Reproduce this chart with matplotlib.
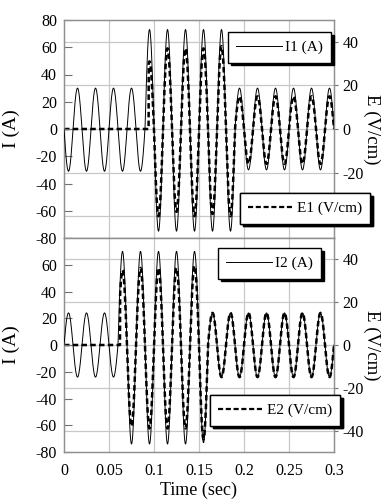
import numpy as np
import matplotlib
matplotlib.use("Agg")
import matplotlib.pyplot as plt
from matplotlib.lines import Line2D

plt.rcParams['font.family'] = ['Liberation Serif', 'DejaVu Serif']

# ---- data (per half-cycle extreme values, 50 Hz, 0..0.3 s) ----
HALF_PERIOD = 0.01
I1_PEAKS = [-31, 30, -31, 30, -31, 30, -31, 30, -31,
            73, -75, 73, -75, 73, -75, 73, -75, 73, -75,
            30, -30, 30, -30, 30, -30, 30, -30, 30, -30, 30]
E1_PEAKS = [0, 0, 0, 0, 0, 0, 0, 0, 0,
            31, -40, 37, -38, 37, -40, 37, -39, 38, -40,
            15, -16, 15, -16, 15, -16, 15, -16, 15, -16, 15]
E1_ONSET = 0.094
I2_PEAKS = [24, -24, 24, -24, 24, -24,
            70, -74, 70, -74, 70, -74, 70, -74, 70, -73,
            24, -24, 24, -24, 24, -24, 24, -24, 24, -24, 24, -24, 24, -24]
E2_PEAKS = [0, 0, 0, 0, 0, 0,
            35, -38, 36, -39, 36, -39, 36, -39, 37, -44,
            15, -15, 15, -15, 15, -15, 15, -15, 15, -15, 15, -15, 15, -15]
E2_ONSET = 0.0622

X_TICKS = [0, 0.05, 0.1, 0.15, 0.2, 0.25, 0.3]
X_TICKLABELS = ['0', '0.05', '0.1', '0.15', '0.2', '0.25', '0.3']
I_TICKS_TOP = [-80, -60, -40, -20, 0, 20, 40, 60, 80]
I_TICKS_BOT = [-80, -60, -40, -20, 0, 20, 40, 60]
E_TICKS = [-40, -20, 0, 20, 40]
E_TICKLABELS_TOP = ['', '-20', '0', '20', '40']   # -40 hidden behind legend in the original
E_TICKLABELS_BOT = ['-40', '-20', '0', '20', '40']


def wave(peaks, onset=None):
    t = np.linspace(0, len(peaks) * HALF_PERIOD, 6001)
    k = np.minimum((t / HALF_PERIOD).astype(int), len(peaks) - 1)
    frac = t / HALF_PERIOD - k
    v = np.asarray(peaks, float)[k] * np.sin(np.pi * frac)
    if onset is not None:
        v = np.where(t < onset, 0.0, v)
    return t, v


W, H = 392, 504
fig = plt.figure(figsize=(W / 100, H / 100), dpi=100)

panels = [
    dict(rect=[64 / W, 1 - 238 / H, 270 / W, 218 / H], I=I1_PEAKS, E=E1_PEAKS,
         onset=E1_ONSET, ilab='I1 (A)', elab='E1 (V/cm)', iticks=I_TICKS_TOP,
         elabels=E_TICKLABELS_TOP,
         ibox=((228 - 64) / 270, 1 - (32 - 20) / 218),
         ebox=((240 - 64) / 270, 1 - (193 - 20) / 218)),
    dict(rect=[64 / W, 1 - 452 / H, 270 / W, 214 / H], I=I2_PEAKS, E=E2_PEAKS,
         onset=E2_ONSET, ilab='I2 (A)', elab='E2 (V/cm)', iticks=I_TICKS_BOT,
         elabels=E_TICKLABELS_BOT,
         ibox=((218 - 64) / 270, 1 - (248 - 238) / 214),
         ebox=((210 - 64) / 270, 1 - (395 - 238) / 214)),
]

spine_col = '#909090'
grid_col = '#c8c8c8'

for i, p in enumerate(panels):
    ax2 = fig.add_axes(p['rect'])          # bottom layer: E (right axis) + grid
    ax = fig.add_axes(p['rect'], sharex=ax2)  # top layer: I (left axis)
    ax.patch.set_visible(False)
    ax2.yaxis.tick_right()
    ax2.yaxis.set_label_position('right')
    ax2.xaxis.set_visible(False)

    ax2.set_xlim(0, 0.3)
    ax2.set_ylim(-50, 50)
    ax.set_ylim(-80, 80)

    # grid
    for y in E_TICKS:
        ax2.axhline(y, color=grid_col, lw=0.9, zorder=0.5)
    for x in X_TICKS[1:-1]:
        ax2.axvline(x, color=grid_col, lw=0.9, zorder=0.5)

    tE, vE = wave(p['E'], p['onset'])
    tI, vI = wave(p['I'])
    lE, = ax2.plot(tE, vE, color='black', lw=1.8, ls=(0, (2.2, 1.3)), zorder=2)
    lI, = ax.plot(tI, vI, color='black', lw=0.7, zorder=3)

    ax.set_yticks(p['iticks'])
    ax.set_yticklabels([str(v) for v in p['iticks']])
    ax2.set_yticks(E_TICKS)
    ax2.set_yticklabels(p['elabels'])
    ax.set_xticks(X_TICKS)
    if i == 1:
        ax.set_xticklabels(X_TICKLABELS)
        ax.set_xlabel('Time (sec)', fontsize=13, labelpad=2)
    else:
        ax.set_xticklabels([])

    ax.tick_params(axis='y', direction='in', length=6, width=0.8, color='#707070',
                   labelsize=11.5, pad=5)
    ax.tick_params(axis='x', length=0, labelsize=11.5, pad=8)
    ax2.tick_params(axis='y', direction='out', length=3, width=0.8, color='#707070',
                    labelsize=11.5, pad=3)

    for a in (ax, ax2):
        for s in a.spines.values():
            s.set_color(spine_col)
            s.set_linewidth(0.9)

    ax.set_ylabel('I (A)', fontsize=14)
    ax.yaxis.set_label_coords(-0.163, 0.5)
    ax2.set_ylabel('E (V/cm)', fontsize=13.5, rotation=-90, va='center')
    ax2.yaxis.set_label_coords(1.14, 0.5)

    for handle, lab, anchor in ((lI, p['ilab'], p['ibox']), (lE, p['elab'], p['ebox'])):
        hl = Line2D([], [], color='black', lw=handle.get_linewidth() if handle is lI else 1.6,
                    ls='-' if handle is lI else (0, (2.3, 1.2)))
        leg = ax.legend([hl], [lab], loc='upper left', bbox_to_anchor=anchor,
                        bbox_transform=ax.transAxes, borderaxespad=0,
                        fontsize=11, fancybox=False, framealpha=1,
                        edgecolor='black', handlelength=3.0, handletextpad=0.15,
                        borderpad=0.55,
                        shadow={'color': 'black', 'alpha': 1.0})
        leg.get_frame().set_linewidth(1.0)
        leg.set_zorder(10)
        ax.add_artist(leg)

fig.savefig('out.png', dpi=100)
